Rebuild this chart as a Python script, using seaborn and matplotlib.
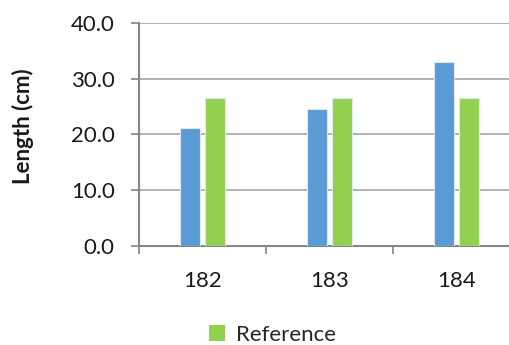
import matplotlib
matplotlib.use("Agg")
import matplotlib.pyplot as plt
import seaborn as sns
import pandas as pd
from matplotlib.patches import Patch

# Data
categories = ["182", "183", "184"]
measured = [21.1, 24.5, 33.0]
reference = [26.6, 26.6, 26.6]
y_ticks = [0, 10, 20, 30, 40]

BLUE = "#5B9BD5"
GREEN = "#92D050"
AXIS = "#868686"
GRID = "#A6A6A6"
TEXT = "#1a1a1a"
FS = 16

sns.set_theme(style="white")
plt.rcParams["font.family"] = ["Lato", "DejaVu Sans"]

df = pd.DataFrame({
    "Sample": categories * 2,
    "Series": ["Measured"] * len(categories) + ["Reference"] * len(categories),
    "Length": measured + reference,
})

fig = plt.figure(figsize=(5.09, 3.45), dpi=100)
ax = fig.add_axes([139 / 509, 99 / 345, 381 / 509, 223.3 / 345])

sns.barplot(data=df, x="Sample", y="Length", hue="Series",
            palette=[BLUE, GREEN], saturation=1, width=0.388, gap=0.2,
            edgecolor="#DDE8F3", linewidth=0.8, ax=ax, legend=False, zorder=3)

ax.set_xlim(-0.5, 2.5)
ax.set_ylim(0, 40)
ax.set_yticks(y_ticks)
ax.set_yticklabels([f"{v:.1f}" for v in y_ticks])
ax.yaxis.grid(True, color=GRID, linewidth=1.2, zorder=0)
ax.set_axisbelow(True)

# Category boundaries carry the tick marks; labels sit at centres
ax.set_xticks([-0.5, 0.5, 1.5, 2.5])
ax.set_xticklabels([])
ax.set_xticks([0, 1, 2], minor=True)
ax.set_xticklabels(categories, minor=True)
ax.tick_params(axis="x", which="major", direction="out", length=5.5,
               width=1.2, color=AXIS, bottom=True)
ax.tick_params(axis="x", which="minor", length=0, pad=18,
               labelsize=FS, labelcolor=TEXT)
ax.tick_params(axis="y", direction="out", length=5.5, width=1.2,
               color=AXIS, left=True, labelsize=FS, labelcolor=TEXT, pad=12)

for s in ["top", "right"]:
    ax.spines[s].set_visible(False)
for s in ["left", "bottom"]:
    ax.spines[s].set_color(AXIS)
    ax.spines[s].set_linewidth(1.5)

ax.set_xlabel("")
ax.set_ylabel("Length (cm)", fontsize=FS, fontweight="bold", color=TEXT)
ax.yaxis.set_label_coords(-0.276, 0.537)

fig.legend(handles=[Patch(facecolor=GREEN, edgecolor="none", label="Reference")],
           loc="center", bbox_to_anchor=(0.536, 0.03), frameon=False,
           fontsize=FS, handlelength=0.7, handleheight=0.7, handletextpad=0.5)

fig.savefig("out.png", dpi=100)
